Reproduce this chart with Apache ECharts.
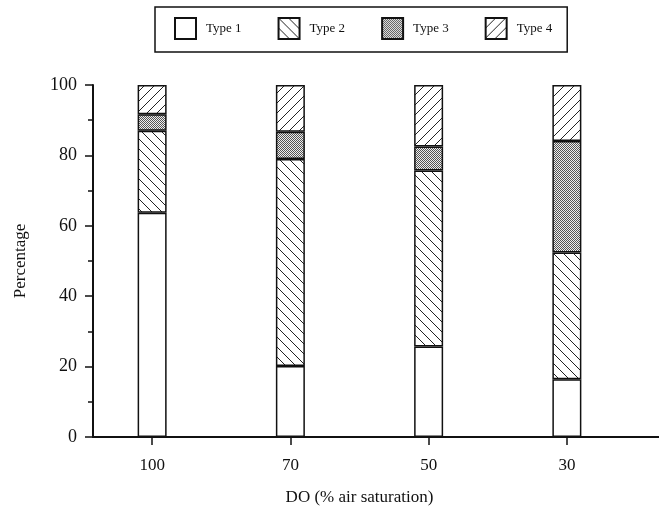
<!DOCTYPE html>
<html>
<head>
<meta charset="utf-8">
<script src="https://cdn.jsdelivr.net/npm/echarts@6/dist/echarts.min.js"></script>
<style>
html, body { margin: 0; background: #fff; }
#chart1 { width: 659px; height: 521px; }
</style>
</head>
<body>
<div id="chart1"></div>
<script>
var categories = ['100', '70', '50', '30'];
var seriesNames = ['Type 1', 'Type 2', 'Type 3', 'Type 4'];
var type1 = [63.7, 20.2, 25.7, 16.4];
var type2 = [23.3, 58.8, 50.0, 36.0];
var type3 = [4.7, 7.7, 6.8, 31.7];
var type4 = [8.3, 13.3, 17.5, 15.9];

var serif = '"Liberation Serif", "DejaVu Serif", serif';

// hatch tiles for the bar fills
function hatch(dir) {
    var s = 10;
    var c = document.createElement('canvas');
    c.width = s; c.height = s;
    var g = c.getContext('2d');
    g.fillStyle = '#fff';
    g.fillRect(0, 0, s, s);
    g.strokeStyle = '#222';
    g.lineWidth = 1;
    g.beginPath();
    if (dir === 'back') {
        g.moveTo(-2, -2); g.lineTo(s + 2, s + 2);
        g.moveTo(-2, s - 2); g.lineTo(2, s + 2);
        g.moveTo(s - 2, -2); g.lineTo(s + 2, 2);
    } else {
        g.moveTo(-2, s + 2); g.lineTo(s + 2, -2);
        g.moveTo(-2, 2); g.lineTo(2, -2);
        g.moveTo(s - 2, s + 2); g.lineTo(s + 2, s - 2);
    }
    g.stroke();
    return { image: c, repeat: 'repeat' };
}

function dots() {
    var c = document.createElement('canvas');
    c.width = 2; c.height = 2;
    var g = c.getContext('2d');
    g.fillStyle = '#eeeeee';
    g.fillRect(0, 0, 2, 2);
    g.fillStyle = '#555';
    g.fillRect(0, 0, 1, 1);
    g.fillRect(1, 1, 1, 1);
    return { image: c, repeat: 'repeat' };
}

var fills = ['#fff', hatch('back'), dots(), hatch('fwd')];
var values = [type1, type2, type3, type4];

var myChart1 = echarts.init(document.getElementById('chart1'));

var series = [];
for (var i = 0; i < values.length; i++) {
    series.push({
        name: seriesNames[i],
        type: 'bar',
        stack: 'all',
        barWidth: 29,
        data: values[i],
        itemStyle: {
            color: fills[i],
            borderColor: '#111',
            borderWidth: 1.5
        },
        emphasis: { disabled: true }
    });
}

myChart1.setOption({
    backgroundColor: '#fff',
    animation: false,
    legend: {
        data: seriesNames,
        left: 155,
        top: 7,
        padding: [10, 15, 12, 19],
        itemWidth: 21,
        itemHeight: 21,
        itemGap: 36,
        icon: 'rect',
        borderColor: '#111',
        borderWidth: 1.5,
        textStyle: { fontFamily: serif, fontSize: 13, color: '#111', padding: [0, 0, 0, 5] }
    },
    grid: [
        { left: 83, right: 23, top: 85, bottom: 84 },
        { left: 93, right: 0, top: 85, bottom: 84 }
    ],
    xAxis: [
        {
            type: 'category',
            gridIndex: 0,
            data: categories,
            name: 'DO (% air saturation)',
            nameLocation: 'middle',
            nameGap: 52,
            nameTextStyle: { fontFamily: serif, fontSize: 17, color: '#111' },
            axisLine: { show: false },
            axisTick: { show: true, alignWithLabel: true, length: 8, lineStyle: { color: '#111', width: 1.5 } },
            axisLabel: { fontFamily: serif, fontSize: 17, color: '#111', margin: 20 }
        },
        {
            type: 'value',
            gridIndex: 1,
            min: 0,
            max: 1,
            axisLine: { show: true, lineStyle: { color: '#111', width: 2 } },
            axisTick: { show: false },
            axisLabel: { show: false },
            splitLine: { show: false }
        }
    ],
    yAxis: [
        {
            type: 'value',
            gridIndex: 0,
            min: 0,
            max: 100,
            interval: 20,
            offset: -10,
            name: 'Percentage',
            nameLocation: 'middle',
            nameGap: 64,
            nameTextStyle: { fontFamily: serif, fontSize: 17, color: '#111' },
            axisLine: { show: true, lineStyle: { color: '#111', width: 2 } },
            axisTick: { show: true, length: 8, lineStyle: { color: '#111', width: 1.5 } },
            minorTick: { show: true, splitNumber: 2, length: 5, lineStyle: { color: '#111', width: 1.5 } },
            axisLabel: { fontFamily: serif, fontSize: 18, color: '#111', margin: 16 },
            splitLine: { show: false }
        },
        {
            type: 'value',
            gridIndex: 1,
            show: false
        }
    ],
    series: series
});

window.onresize = function () {
    myChart1.resize();
};
</script>
</body>
</html>
